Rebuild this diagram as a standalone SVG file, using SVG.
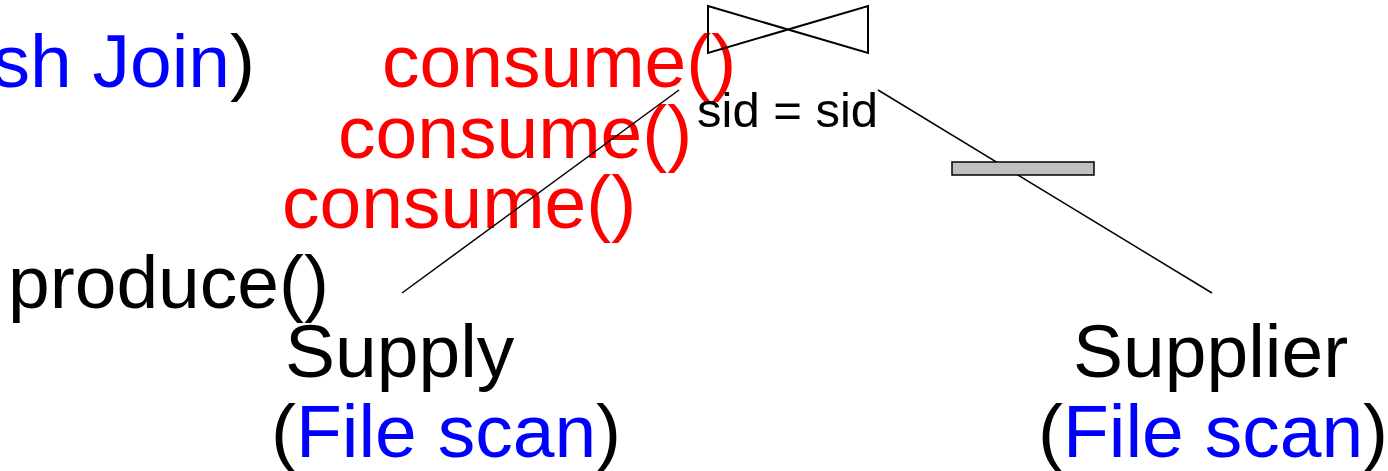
<svg xmlns="http://www.w3.org/2000/svg" width="1388" height="471" viewBox="0 0 1388 471">
<style>
text{font-family:"Liberation Sans",Arial,sans-serif;font-size:75px;fill:#000}
.red{fill:#ff0000}
.blue{fill:#0000ff}
.small{font-size:49px}
.edge{stroke:#000;stroke-width:1.5;fill:none}
.op{stroke:#000;stroke-width:2;fill:none}
</style>
<rect width="1388" height="471" fill="#fff"/>
<g id="annotations">
<text x="255" y="87" text-anchor="end"><tspan class="blue">sh Join</tspan>)</text>
<text class="red" x="382" y="87">consume()</text>
<text class="red" x="338" y="158">consume()</text>
<text class="red" x="282" y="228">consume()</text>
<text x="8" y="308">produce()</text>
</g>
<g id="connectors">
<line class="edge" x1="402" y1="293" x2="679" y2="90"/>
<line class="edge" x1="878" y1="90" x2="1212" y2="293"/>
</g>
<g id="join">
<polygon class="op" points="708,6 868,53 868,6 708,53"/>
<text class="small" x="697" y="127">sid = sid</text>
</g>
<g id="select">
<rect x="952" y="162" width="142" height="13" fill="#c0c0c0" stroke="#000" stroke-width="1.5"/>
</g>
<g id="supply">
<text x="285" y="377">Supply</text>
<text x="271" y="457">(<tspan class="blue">File scan</tspan>)</text>
</g>
<g id="supplier">
<text x="1073" y="377">Supplier</text>
<text x="1038" y="457">(<tspan class="blue">File scan</tspan>)</text>
</g>
</svg>
